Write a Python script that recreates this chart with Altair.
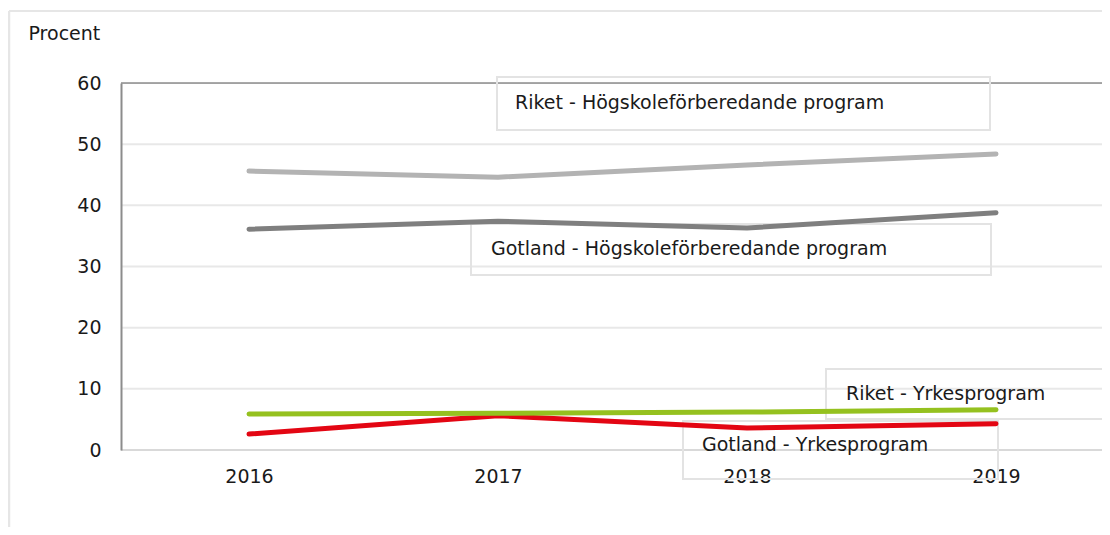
import altair as alt
import pandas as pd

# ---- data ----
years = [2016, 2017, 2018, 2019]
series_names = [
    "Riket - Högskoleförberedande program",
    "Gotland - Högskoleförberedande program",
    "Gotland - Yrkesprogram",
    "Riket - Yrkesprogram",
]
riket_hogsk = [45.6, 44.6, 46.6, 48.4]
gotland_hogsk = [36.1, 37.4, 36.3, 38.8]
gotland_yrkes = [2.6, 5.6, 3.6, 4.3]
riket_yrkes = [5.9, 6.0, 6.2, 6.6]
series_values = [riket_hogsk, gotland_hogsk, gotland_yrkes, riket_yrkes]
series_colors = ["#b3b3b3", "#7f7f7f", "#e30613", "#95c11f"]
y_ticks = [0, 10, 20, 30, 40, 50, 60]
grid_ticks = [10, 20, 30, 40, 50]
y_title = "Procent"

FONT = "DejaVu Sans"
FS = 19
TXT = "#1a1a1a"

W, H = 981, 367
xscale = alt.Scale(domain=[2016, 2019], range=[128, 875])
yscale = alt.Scale(domain=[0, 60], nice=False)

one = pd.DataFrame({"k": [0]})

# base carrying the axes (drawn invisibly)
base = alt.Chart(pd.DataFrame({"v": y_ticks})).mark_rule(opacity=0).encode(
    x=alt.X("x:Q", scale=xscale,
            axis=alt.Axis(values=years, format="d", title=None, grid=False,
                          domain=False, ticks=False, labelPadding=17,
                          labelFlush=False, labelFont=FONT, labelFontSize=FS,
                          labelColor=TXT)),
    y=alt.Y("v:Q", scale=yscale,
            axis=alt.Axis(values=y_ticks, title=y_title, titleAngle=0,
                          titleX=-93, titleY=-50, titleAlign="left",
                          titleBaseline="middle", titleFont=FONT,
                          titleFontSize=FS, titleFontWeight="normal",
                          titleColor=TXT, grid=False, domain=True,
                          domainColor="#8c8c8c", domainWidth=2, ticks=False,
                          labelPadding=20, labelFlush=False, labelFont=FONT,
                          labelFontSize=FS, labelColor=TXT, zindex=1)),
).transform_calculate(x="2016")

# outer chart-area border (top and left)
border_top = alt.Chart(one).mark_rule(color="#e6e6e6", strokeWidth=2).encode(
    x=alt.value(-112), x2=alt.value(W + 10), y=alt.value(-72)
)
border_left = alt.Chart(one).mark_rule(color="#e6e6e6", strokeWidth=2.5).encode(
    x=alt.value(-112), y=alt.value(-72), y2=alt.value(H + 90)
)

# horizontal gridlines spanning the whole plot width
grid = alt.Chart(pd.DataFrame({"v": grid_ticks})).mark_rule(
    color="#e8e8e8", strokeWidth=2).encode(
    y=alt.Y("v:Q", scale=yscale), x=alt.value(0), x2=alt.value(W)
)
bottom_line = alt.Chart(one).mark_rule(color="#d9d9d9", strokeWidth=2).encode(
    y=alt.datum(0, scale=yscale), x=alt.value(0), x2=alt.value(W)
)
top_line = alt.Chart(one).mark_rule(color="#8c8c8c", strokeWidth=1.5).encode(
    y=alt.datum(60, scale=yscale), x=alt.value(0), x2=alt.value(W)
)

# annotation boxes (pixel boxes in view coordinates) and their labels
box_specs = {
    "Riket - Högskoleförberedande program": (376, 869, -6, 47, 394, 20),
    "Gotland - Högskoleförberedande program": (350, 870, 141, 192, 370, 166),
    "Riket - Yrkesprogram": (705, 1000, 286, 336, 725, 311),
    "Gotland - Yrkesprogram": (562, 877, 338, 396, 581, 362),
}
boxes, labels = [], []
for name in series_names:
    x1, x2, y1, y2, tx, ty = box_specs[name]
    d = pd.DataFrame({"label": [name]})
    boxes.append(alt.Chart(d).mark_rect(fill="transparent", stroke="#e3e3e3",
                                        strokeWidth=2).encode(
        x=alt.value(x1), x2=alt.value(x2), y=alt.value(y1), y2=alt.value(y2)))
    labels.append(alt.Chart(d).mark_text(font=FONT, fontSize=FS, color=TXT,
                                         align="left", baseline="middle").encode(
        x=alt.value(tx), y=alt.value(ty), text="label:N"))

lines = []
for name, vals, col in zip(series_names, series_values, series_colors):
    d = pd.DataFrame({"year": years, "value": vals, "series": name})
    lines.append(alt.Chart(d).mark_line(color=col, strokeWidth=5,
                                        strokeCap="round", strokeJoin="round").encode(
        x=alt.X("year:Q", scale=xscale),
        y=alt.Y("value:Q", scale=yscale),
    ))

chart = alt.layer(
    base, border_top, border_left, grid, bottom_line, top_line,
    *boxes, *lines, *labels
).properties(
    width=W, height=H,
    padding={"left": 113, "top": 75, "right": 0, "bottom": 77},
    autosize=alt.AutoSizeParams(type="none"),
).configure_view(strokeWidth=0).configure(background="white")

chart.save("out.html", embed_options={"renderer": "svg", "actions": False})
